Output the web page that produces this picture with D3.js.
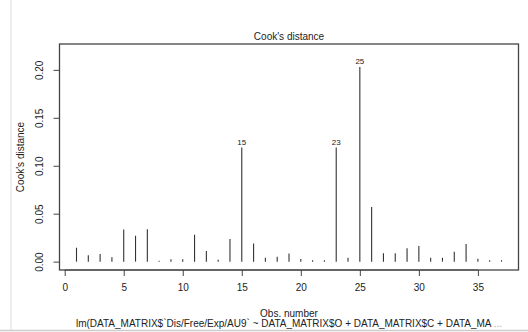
<!DOCTYPE html>
<html>
<head>
<meta charset="utf-8">
<script src="https://cdn.jsdelivr.net/npm/d3@7"></script>
<style>
  html, body { margin: 0; padding: 0; background: #fff; }
  svg { display: block; }
  text { font-family: "Liberation Sans", Arial, sans-serif; fill: #222; }
</style>
</head>
<body>
<svg id="chart" width="528" height="332"></svg>
<script>
// Observation numbers and their Cook's distances
const obs = d3.range(1, 38);
const cooks = [
  0.0145, 0.0066, 0.0080, 0.0046, 0.0336, 0.0270, 0.0338, 0.0010, 0.0024, 0.0024,
  0.0280, 0.0110, 0.0020, 0.0236, 0.1190, 0.0190, 0.0040, 0.0050, 0.0085, 0.0028,
  0.0015, 0.0015, 0.1190, 0.0040, 0.2030, 0.0570, 0.0087, 0.0087, 0.0140, 0.0163,
  0.0040, 0.0040, 0.0104, 0.0183, 0.0030, 0.0015, 0.0015
];
const labelled = [15, 23, 25];
const xTicks = [0, 5, 10, 15, 20, 25, 30, 35];
const yTicks = [0, 0.05, 0.10, 0.15, 0.20];
const titleText = "Cook's distance";
const xTitle = "Obs. number";
const yTitle = "Cook's distance";
const captionMain = "lm(DATA_MATRIX$`Dis/Free/Exp/AU9` ~ DATA_MATRIX$O + DATA_MATRIX$C + DATA_MA";
const captionTail = " ...";

const svg = d3.select("#chart");
const box = { left: 59.5, right: 518.5, top: 44, bottom: 270 };

// R-style limits: 4% padding on each side
const n = obs.length;
const xPad = (n - 1) * 0.04;
const yMax = d3.max(cooks) * 1.075;
const x = d3.scaleLinear().domain([1 - xPad, n + xPad]).range([box.left, box.right]);
const y = d3.scaleLinear().domain([-0.04 * yMax, 1.04 * yMax]).range([box.bottom, box.top]);

// page frame lines
svg.append("line").attr("x1", 11).attr("x2", 11).attr("y1", 0).attr("y2", 330)
  .attr("stroke", "#ddd").attr("stroke-width", 1);
svg.append("line").attr("x1", 0).attr("x2", 528).attr("y1", 330.5).attr("y2", 330.5)
  .attr("stroke", "#ccc").attr("stroke-width", 1.5);

// stems
svg.append("g").selectAll("line").data(obs).join("line")
  .attr("x1", d => x(d)).attr("x2", d => x(d))
  .attr("y1", y(0)).attr("y2", (d, i) => y(cooks[i]))
  .attr("stroke", "#333").attr("stroke-width", 1.1);

// labels for the largest distances
svg.append("g").selectAll("text").data(labelled).join("text")
  .attr("x", d => x(d)).attr("y", d => y(cooks[d - 1]) - 2.5)
  .attr("text-anchor", "middle").attr("font-size", 8)
  .text(d => d);

// plot box
svg.append("rect")
  .attr("x", box.left).attr("y", box.top)
  .attr("width", box.right - box.left).attr("height", box.bottom - box.top)
  .attr("fill", "none").attr("stroke", "#444").attr("stroke-width", 1.3);

// x axis
const xAxis = d3.axisBottom(x).tickValues(xTicks).tickSize(6).tickPadding(7.5)
  .tickFormat(d3.format("d"));
const gx = svg.append("g").attr("transform", `translate(0,${box.bottom})`).call(xAxis);
gx.select(".domain").attr("d", `M${x(0)},0H${x(35)}`).attr("stroke", "#444");
gx.selectAll(".tick line").attr("stroke", "#444");
gx.selectAll(".tick text").attr("font-size", 10).attr("fill", "#222")
  .attr("font-family", "Liberation Sans, Arial, sans-serif");

// y axis with vertical tick labels
const yAxis = d3.axisLeft(y).tickValues(yTicks).tickSize(6).tickFormat(d3.format(".2f"));
const gy = svg.append("g").attr("transform", `translate(${box.left},0)`).call(yAxis);
gy.select(".domain").attr("d", `M0,${y(0)}V${y(0.2)}`).attr("stroke", "#444");
gy.selectAll(".tick line").attr("stroke", "#444");
gy.selectAll(".tick text")
  .attr("font-size", 10).attr("fill", "#222")
  .attr("font-family", "Liberation Sans, Arial, sans-serif")
  .attr("x", null).attr("dy", null)
  .attr("text-anchor", "middle")
  .attr("transform", "translate(-20,0) rotate(-90)")
  .attr("y", 3.5);

// titles
const cx = (box.left + box.right) / 2;
svg.append("text").attr("x", cx).attr("y", 40).attr("text-anchor", "middle")
  .attr("font-size", 10).text(titleText);
svg.append("text").attr("x", cx).attr("y", 316.5).attr("text-anchor", "middle")
  .attr("font-size", 10).text(xTitle);
const cap = svg.append("text").attr("x", cx).attr("y", 327).attr("text-anchor", "middle")
  .attr("font-size", 10);
cap.append("tspan").text(captionMain);
cap.append("tspan").attr("fill", "#aaa").text(captionTail);
svg.append("text")
  .attr("transform", `translate(24,${(box.top + box.bottom) / 2}) rotate(-90)`)
  .attr("text-anchor", "middle").attr("font-size", 10).text(yTitle);
</script>
</body>
</html>
